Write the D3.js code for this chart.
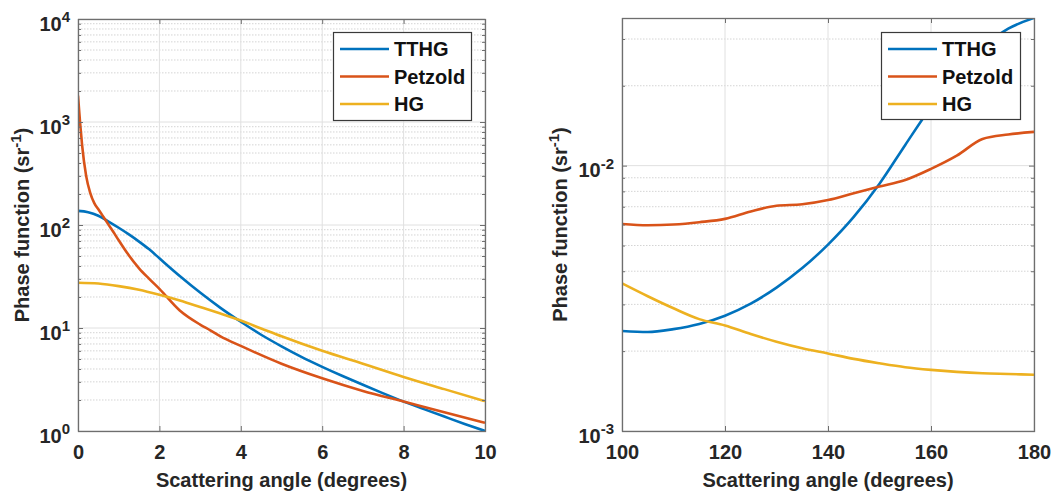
<!DOCTYPE html>
<html><head><meta charset="utf-8">
<script src="https://cdn.jsdelivr.net/npm/d3@7"></script>
<style>
body{margin:0;background:#fff;}
svg text{font-family:"Liberation Sans",Arial,Helvetica,sans-serif;font-weight:bold;}
</style>
</head><body>
<svg id="c" width="1056" height="496"></svg>
<script>
// ---------- data ----------
const seriesNames = ["TTHG", "Petzold", "HG"];
const seriesColors = ["#0072BD", "#D95319", "#EDB120"];

const leftXTicks = [0, 2, 4, 6, 8, 10];
const leftYTickExps = [0, 1, 2, 3, 4];
const rightXTicks = [100, 120, 140, 160, 180];
const rightYTickExps = [-3, -2];

const xLabel = "Scattering angle (degrees)";
const yLabelMain = "Phase function (sr";
const yLabelSup = "-1";

// Left panel (0-10 degrees)
const leftTTHG_x = [0, 0.25, 0.5, 0.75, 1, 1.25, 1.5, 1.75, 2, 2.5, 3, 3.5, 4, 4.5, 5, 5.5, 6, 6.5, 7, 7.5, 8, 8.5, 9, 9.5, 10];
const leftTTHG_y = [137, 133, 123, 108, 94, 81, 69, 58, 47.5, 32.0, 22.1, 15.7, 11.5, 8.6, 6.64, 5.22, 4.2, 3.42, 2.81, 2.32, 1.93, 1.63, 1.38, 1.17, 1.0];

const leftPetzold_x = [0, 0.05, 0.1, 0.2, 0.3, 0.4, 0.5, 0.6, 0.7, 0.8, 0.9, 1.0, 1.2, 1.5, 1.75, 2, 2.5, 3, 3.25, 3.5, 4, 5, 6, 7, 8, 9, 10];
const leftPetzold_y = [1800, 1000, 600, 300, 205, 163, 142, 124, 108, 94, 82, 71, 54, 38, 30, 24, 14.8, 10.8, 9.5, 8.3, 6.7, 4.5, 3.25, 2.45, 1.93, 1.52, 1.2];

const leftHG_x = [0, 0.5, 1, 1.5, 2, 2.5, 3, 3.5, 4, 4.5, 5, 6, 7, 8, 9, 10];
const leftHG_y = [27.5, 27, 25.5, 23.5, 21, 18.5, 16, 13.8, 11.8, 9.9, 8.3, 6.0, 4.5, 3.35, 2.55, 1.95];

// Right panel (100-180 degrees)
const rightAngles = [100, 105, 110, 115, 120, 125, 130, 135, 140, 145, 150, 155, 160, 165, 170, 175, 180];
const rightTTHG_y = [0.00238, 0.00236, 0.00242, 0.00253, 0.00272, 0.00302, 0.00347, 0.00411, 0.00504, 0.00641, 0.00855, 0.01197, 0.01663, 0.02208, 0.0278, 0.0328, 0.0360];
const rightPetzold_y = [0.00603, 0.00596, 0.00600, 0.00612, 0.00630, 0.00672, 0.00706, 0.00715, 0.00742, 0.00787, 0.00834, 0.00883, 0.00972, 0.0109, 0.0126, 0.0131, 0.0134];
const rightHG_y = [0.00360, 0.00322, 0.00290, 0.00264, 0.00250, 0.00232, 0.00217, 0.00205, 0.00196, 0.00187, 0.00180, 0.00174, 0.00170, 0.00167, 0.00165, 0.00164, 0.00163];

// ---------- drawing ----------
const svg = d3.select("#c");
const FRAME = "#6e6e6e";
const TXT = "#262626";

function zip(xs, ys) { return xs.map((x, i) => ({x: x, y: ys[i]})); }

function drawPanel(cfg) {
  const x = d3.scaleLinear().domain(cfg.xDomain).range([cfg.x0, cfg.x1]);
  const y = d3.scaleLog().domain(cfg.yDomain).range([cfg.y1, cfg.y0]);
  const g = svg.append("g");
  const id = "clip" + cfg.name;
  svg.append("clipPath").attr("id", id).append("rect")
    .attr("x", cfg.x0).attr("y", cfg.y0).attr("width", cfg.x1 - cfg.x0).attr("height", cfg.y1 - cfg.y0);

  const lo = Math.floor(Math.log10(cfg.yDomain[0])), hi = Math.ceil(Math.log10(cfg.yDomain[1]));
  const minors = [], majors = [];
  for (let e = lo; e <= hi; e++) {
    const base = Math.pow(10, e);
    if (base >= cfg.yDomain[0] * 0.999 && base <= cfg.yDomain[1] * 1.001) majors.push(base);
    for (let k = 2; k <= 9; k++) {
      const v = k * base;
      if (v > cfg.yDomain[0] && v < cfg.yDomain[1]) minors.push(v);
    }
  }
  // grid
  g.append("g").selectAll("line").data(minors).join("line")
    .attr("x1", cfg.x0).attr("x2", cfg.x1).attr("y1", d => y(d)).attr("y2", d => y(d))
    .attr("stroke", "#d4d4d4").attr("stroke-width", 1).attr("stroke-dasharray", "1.5,1.5");
  g.append("g").selectAll("line").data(majors).join("line")
    .attr("x1", cfg.x0).attr("x2", cfg.x1).attr("y1", d => y(d)).attr("y2", d => y(d))
    .attr("stroke", "#e0e0e0").attr("stroke-width", 1);
  g.append("g").selectAll("line").data(cfg.xTicks).join("line")
    .attr("x1", d => x(d)).attr("x2", d => x(d)).attr("y1", cfg.y0).attr("y2", cfg.y1)
    .attr("stroke", "#e0e0e0").attr("stroke-width", 1);

  // series
  const line = d3.line().x(d => x(d.x)).y(d => y(d.y)).curve(d3.curveMonotoneX);
  cfg.series.forEach((s, i) => {
    g.append("path").attr("d", line(s)).attr("fill", "none")
      .attr("stroke", seriesColors[i]).attr("stroke-width", 2.6)
      .attr("clip-path", "url(#" + id + ")");
  });

  // axes (inward ticks)
  const styleAxis = sel => {
    sel.select(".domain").remove();
    sel.selectAll(".tick line").attr("stroke", FRAME);
    sel.selectAll("text").attr("fill", TXT).style("font-size", "20px");
  };
  g.append("g").attr("transform", `translate(0,${cfg.y1})`)
    .call(d3.axisBottom(x).tickValues(cfg.xTicks).tickSize(-5).tickSizeOuter(0).tickPadding(14).tickFormat(d3.format("d")))
    .call(styleAxis);
  g.append("g").attr("transform", `translate(0,${cfg.y0})`)
    .call(d3.axisTop(x).tickValues(cfg.xTicks).tickSize(-5).tickSizeOuter(0).tickFormat(""))
    .call(styleAxis);
  const yMajor = cfg.yTickExps.map(e => Math.pow(10, e));
  const yl = g.append("g").attr("transform", `translate(${cfg.x0},0)`)
    .call(d3.axisLeft(y).tickValues(yMajor).tickSize(-5).tickSizeOuter(0).tickPadding(8).tickFormat(""))
    .call(styleAxis);
  yl.selectAll(".tick text").attr("dy", null).attr("y", 11).each(function(d) {
    const t = d3.select(this);
    t.append("tspan").text("10");
    t.append("tspan").attr("dy", -8.3).style("font-size", "15px").text(String(Math.round(Math.log10(d))));
  });
  g.append("g").attr("transform", `translate(${cfg.x0},0)`)
    .call(d3.axisLeft(y).tickValues(minors).tickSize(-3).tickSizeOuter(0).tickFormat(""))
    .call(styleAxis);
  g.append("g").attr("transform", `translate(${cfg.x1},0)`)
    .call(d3.axisRight(y).tickValues(yMajor).tickSize(-5).tickSizeOuter(0).tickFormat(""))
    .call(styleAxis);
  g.append("g").attr("transform", `translate(${cfg.x1},0)`)
    .call(d3.axisRight(y).tickValues(minors).tickSize(-3).tickSizeOuter(0).tickFormat(""))
    .call(styleAxis);

  // frame
  g.append("rect").attr("x", cfg.x0 + 0.5).attr("y", cfg.y0 + 0.5)
    .attr("width", cfg.x1 - cfg.x0).attr("height", cfg.y1 - cfg.y0)
    .attr("fill", "none").attr("stroke", FRAME).attr("stroke-width", 1.3);

  // axis labels
  g.append("text").attr("x", (cfg.x0 + cfg.x1) / 2).attr("y", 487)
    .attr("text-anchor", "middle").attr("fill", TXT).style("font-size", "20px").text(xLabel);
  const yt = g.append("text")
    .attr("transform", `translate(${cfg.yLabelX},${(cfg.y0 + cfg.y1) / 2}) rotate(-90)`)
    .attr("text-anchor", "middle").attr("fill", TXT).style("font-size", "20px");
  yt.append("tspan").text(yLabelMain);
  yt.append("tspan").attr("dy", -8).style("font-size", "15px").text(yLabelSup);
  yt.append("tspan").attr("dy", 8).text(")");

  // legend
  const L = cfg.legend;
  const lg = g.append("g");
  lg.append("rect").attr("x", L.x + 0.5).attr("y", L.y + 0.5).attr("width", L.w).attr("height", L.h)
    .attr("fill", "#fff").attr("stroke", "#3a3a3a").attr("stroke-width", 1.2);
  seriesNames.forEach((n, i) => {
    const cy = L.y + 17 + i * 27.5;
    lg.append("line").attr("x1", L.x + 7).attr("x2", L.x + 56).attr("y1", cy).attr("y2", cy)
      .attr("stroke", seriesColors[i]).attr("stroke-width", 2.6);
    lg.append("text").attr("x", L.x + 61).attr("y", cy + 7).attr("fill", "#111")
      .style("font-size", "20px").text(n);
  });
}

drawPanel({
  name: "L", x0: 78, x1: 485, y0: 19, y1: 431,
  xDomain: [0, 10], yDomain: [1, 1e4],
  xTicks: leftXTicks, yTickExps: leftYTickExps, yLabelX: 28.5,
  series: [zip(leftTTHG_x, leftTTHG_y), zip(leftPetzold_x, leftPetzold_y), zip(leftHG_x, leftHG_y)],
  legend: {x: 333, y: 32, w: 138, h: 88}
});
drawPanel({
  name: "R", x0: 622, x1: 1034, y0: 18, y1: 431,
  xDomain: [100, 180], yDomain: [1e-3, 0.036],
  xTicks: rightXTicks, yTickExps: rightYTickExps, yLabelX: 566.5,
  series: [zip(rightAngles, rightTTHG_y), zip(rightAngles, rightPetzold_y), zip(rightAngles, rightHG_y)],
  legend: {x: 881, y: 32, w: 139, h: 87}
});
</script>
</body></html>
